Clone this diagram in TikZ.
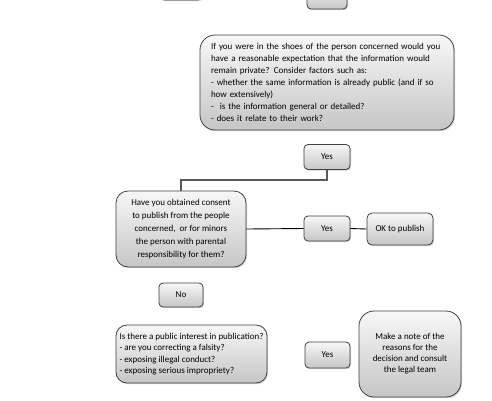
\documentclass[tikz,border=0pt]{standalone}
\usepackage{fontspec}
\setmainfont{Carlito}
\usetikzlibrary{shadows}
\tikzset{
  gbox/.style={draw=black!75, line width=0.8pt, top color=gray!6, bottom color=gray!45,
    drop shadow={shadow xshift=1pt, shadow yshift=-1.2pt, opacity=0.35},
    font=\fontsize{9}{13.2}\selectfont, inner sep=0pt, align=center},
  conn/.style={line width=0.9pt, draw=black},
  gconn/.style={line width=1.1pt, draw=black!65}
}
\begin{document}
\begin{tikzpicture}[x=1pt,y=-1pt]
\path[use as bounding box, clip] (0,0) rectangle (492,400);
\fill[white] (0,0) rectangle (492,400);
% cut-off boxes at the top
\node[gbox, rounded corners=4pt, minimum width=42pt, minimum height=24pt] (topL) at (181,-12) {};
\node[gbox, rounded corners=4pt, minimum width=40pt, minimum height=24pt] (topR) at (327,-3) {sure};
% main boxes
\node[gbox, rounded corners=15pt, minimum width=254pt, minimum height=95pt, text width=232pt, align=left,
      font=\fontsize{9}{12}\selectfont] (q1) at (327,82.5)
 {If you were in the shoes of the person concerned would you\\
  have a reasonable expectation that the information would\\
  remain private? Consider factors such as:\\
  - whether the same information is already public (and if so\\
  how extensively)\\
  -\ \ is the information general or detailed?\\
  - does it relate to their work?};
\node[gbox, rounded corners=4pt, minimum width=46pt, minimum height=25pt] (y1) at (327,157) {Yes};
\node[gbox, rounded corners=12pt, minimum width=130pt, minimum height=76pt] (q2) at (181,229)
 {Have you obtained consent\\
  to publish from the people\\
  concerned,\ \ or for minors\\
  the person with parental\\
  responsibility for them?};
\node[gbox, rounded corners=4pt, minimum width=46pt, minimum height=25pt] (y2) at (327,228.5) {Yes};
\node[gbox, rounded corners=5pt, minimum width=66pt, minimum height=32pt] (ok) at (400,229) {OK to publish};
\node[gbox, rounded corners=4pt, minimum width=44pt, minimum height=24pt] (no) at (181,295) {No};
\node[gbox, rounded corners=11pt, minimum width=151pt, minimum height=58pt, align=left,
      font=\fontsize{9}{11.3}\selectfont] (q3) at (191.5,354)
 {Is there a public interest in publication?\\
  - are you correcting a falsity?\\
  - exposing illegal conduct?\\
  - exposing serious impropriety?};
\node[gbox, rounded corners=4pt, minimum width=45pt, minimum height=26pt] (y3) at (327.5,355) {Yes};
\node[gbox, rounded corners=15pt, minimum width=102pt, minimum height=86pt,
      font=\fontsize{9}{11}\selectfont] (note) at (410,354)
 {Make a note of the\\
  reasons for the\\
  decision and consult\\
  the legal team};
% connectors
\coordinate (bend) at (327,180);
\draw[gconn] (y1.south) -- (bend) -| (q2.north);
\draw[conn] (q2.east) -- (y2.west);
\draw[conn] (y2.east) -- (ok.west);
\end{tikzpicture}
\end{document}
